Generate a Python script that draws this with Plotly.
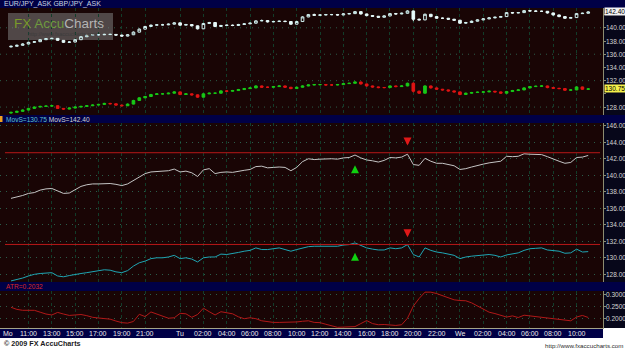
import pandas as pd
import plotly.graph_objects as go

# ---------------- data ----------------
START = "2009-06-15 09:30"
BAR_FREQ = "30min"

EUR_FIRST_OPEN = 137.1
EUR_CLOSE = [137.2,137.35,137.55,137.8,137.9,138.2,138.35,138.4,138.1,137.8,
             137.85,138.2,138.65,138.85,138.95,138.95,139.0,139.0,138.9,138.75,
             138.95,139.35,139.8,140.2,140.4,140.45,140.45,140.55,140.75,140.4,
             140.5,140.3,139.85,140.65,140.8,140.2,140.35,140.4,140.35,140.5,
             140.6,140.7,141.05,141.1,140.9,140.95,141.0,140.95,140.55,140.95,
             141.65,142.0,141.9,141.95,142.0,142.0,141.95,142.1,142.15,142.45,
             142.1,141.85,141.75,141.6,141.8,142.15,142.1,142.2,142.55,141.3,
             141.2,142.05,141.7,141.45,141.45,141.3,141.15,140.7,140.8,141.0,
             141.2,141.35,141.5,141.6,141.7,142.3,142.25,142.3,142.6,142.55,
             142.5,142.5,142.25,141.95,141.7,141.45,141.55,142.15,142.2,142.4]
EUR_HIGH = [137.3,137.45,137.65,137.9,138.0,138.3,138.45,138.5,138.45,138.15,
            137.95,138.3,138.75,138.95,139.05,139.05,139.1,139.1,139.05,138.95,
            139.05,139.45,139.9,140.3,140.5,140.55,140.6,140.65,140.85,140.8,
            140.6,140.55,140.35,140.75,140.9,140.85,140.45,140.5,140.5,140.6,
            140.7,140.8,141.15,141.25,141.15,141.05,141.1,141.1,141.0,141.05,
            141.75,142.1,142.15,142.05,142.1,142.1,142.1,142.2,142.25,142.55,
            142.5,142.15,141.9,141.8,141.9,142.25,142.25,142.3,142.65,142.6,
            141.4,142.15,142.1,141.75,141.55,141.5,141.35,141.2,140.9,141.1,
            141.3,141.45,141.6,141.7,141.8,142.4,142.4,142.4,142.7,142.7,
            142.65,142.6,142.55,142.3,142.0,141.75,141.65,142.25,142.3,142.5]
EUR_LOW = [137.05,137.15,137.3,137.5,137.75,137.85,138.15,138.3,138.0,137.7,
           137.7,137.8,138.15,138.6,138.8,138.85,138.9,138.9,138.8,138.65,
           138.7,138.9,139.3,139.75,140.15,140.35,140.35,140.4,140.5,140.3,
           140.35,140.2,139.75,139.8,140.6,140.1,140.15,140.3,140.25,140.3,
           140.45,140.55,140.65,141.0,140.8,140.85,140.9,140.85,140.45,140.5,
           140.9,141.6,141.85,141.85,141.9,141.9,141.85,141.9,142.05,142.1,
           142.0,141.75,141.65,141.5,141.55,141.75,142.0,142.05,142.15,141.0,
           141.1,141.15,141.6,141.35,141.35,141.2,141.05,140.6,140.6,140.75,
           140.95,141.15,141.3,141.45,141.55,141.65,142.15,142.2,142.25,142.45,
           142.4,142.4,142.15,141.85,141.6,141.35,141.4,141.5,142.1,142.15]

GBP_FIRST_OPEN = 127.1
GBP_CLOSE = [127.2,127.35,127.55,127.8,128.0,128.1,128.15,128.2,127.8,127.7,
             127.85,128.0,128.1,128.2,128.3,128.4,128.55,128.5,128.3,128.2,
             128.45,129.0,129.4,129.6,129.9,130.0,130.0,130.1,130.3,129.9,
             130.0,129.85,129.5,130.0,130.1,130.1,130.45,130.4,130.5,130.65,
             130.8,130.9,131.2,131.0,131.0,131.1,131.2,131.0,130.8,131.0,
             131.2,131.35,131.4,131.4,131.35,131.35,131.4,131.55,131.6,131.8,
             131.5,131.2,131.05,130.95,130.95,131.2,131.1,131.2,131.6,130.4,
             130.1,131.2,130.9,130.7,130.6,130.45,130.3,129.9,130.1,130.2,
             130.25,130.3,130.4,130.3,130.1,130.35,130.5,130.6,130.9,131.1,
             131.15,131.2,130.95,130.85,130.8,130.55,130.6,131.05,130.7,130.75]
GBP_HIGH = [127.3,127.45,127.65,127.9,128.1,128.2,128.25,128.3,128.25,127.85,
            127.95,128.1,128.2,128.3,128.4,128.5,128.65,128.65,128.55,128.35,
            128.55,129.1,129.5,129.7,130.0,130.1,130.1,130.2,130.4,130.35,
            130.1,130.05,129.9,130.1,130.2,130.2,130.55,130.55,130.6,130.75,
            130.9,131.0,131.3,131.25,131.1,131.2,131.3,131.25,131.05,131.1,
            131.3,131.45,131.5,131.5,131.5,131.45,131.5,131.65,131.7,131.9,
            131.85,131.55,131.25,131.1,131.05,131.3,131.25,131.3,131.7,131.75,
            130.5,131.3,131.25,130.95,130.75,130.65,130.5,130.35,130.2,130.3,
            130.35,130.4,130.5,130.45,130.35,130.45,130.6,130.7,131.0,131.2,
            131.25,131.3,131.25,131.0,130.9,130.85,130.7,131.15,131.1,130.85]
GBP_LOW = [127.0,127.15,127.3,127.5,127.75,127.95,128.05,128.1,127.7,127.6,
           127.65,127.8,127.95,128.05,128.15,128.25,128.35,128.4,128.2,128.1,
           128.15,128.4,128.95,129.35,129.55,129.85,129.9,129.95,130.05,129.8,
           129.85,129.75,129.4,129.45,129.95,130.0,130.05,130.3,130.35,130.45,
           130.6,130.75,130.85,130.9,130.9,130.95,131.05,130.9,130.7,130.75,
           130.95,131.15,131.3,131.3,131.25,131.25,131.3,131.35,131.5,131.55,
           131.4,131.1,130.95,130.85,130.85,130.9,131.0,131.05,131.15,130.2,
           130.0,130.05,130.8,130.6,130.5,130.35,130.2,129.8,129.85,130.05,
           130.15,130.2,130.25,130.2,130.0,130.05,130.3,130.45,130.55,130.85,
           131.05,131.1,130.85,130.75,130.7,130.45,130.5,130.55,130.6,130.65]

ATR = [0.247,0.238,0.234,0.233,0.234,0.226,0.218,0.214,0.225,0.218,
       0.212,0.214,0.216,0.211,0.204,0.201,0.199,0.196,0.188,0.181,
       0.179,0.186,0.217,0.207,0.227,0.218,0.210,0.200,0.202,0.221,
       0.219,0.204,0.216,0.243,0.228,0.214,0.228,0.225,0.219,0.206,
       0.198,0.202,0.198,0.189,0.185,0.182,0.182,0.183,0.181,0.184,
       0.187,0.189,0.182,0.181,0.174,0.166,0.161,0.162,0.164,0.164,
       0.177,0.190,0.177,0.172,0.173,0.172,0.169,0.172,0.200,0.252,
       0.285,0.312,0.312,0.306,0.297,0.288,0.279,0.276,0.275,0.266,
       0.252,0.237,0.226,0.220,0.214,0.205,0.210,0.203,0.213,0.210,
       0.205,0.204,0.200,0.197,0.192,0.189,0.189,0.205,0.212,0.2032]

LEVEL_EUR = 142.73
LEVEL_GBP = 131.62
SIG_UP_TIME = "2009-06-16 15:00"
SIG_UP_EUR = 141.2
SIG_UP_GBP = 130.6
SIG_DN_TIME = "2009-06-16 19:30"
SIG_DN_EUR = 143.6
SIG_DN_GBP = 132.5

TICK_TIMES = ["2009-06-15 11:00","2009-06-15 13:00","2009-06-15 15:00","2009-06-15 17:00",
              "2009-06-15 19:00","2009-06-15 21:00","2009-06-16 00:00","2009-06-16 02:00",
              "2009-06-16 04:00","2009-06-16 06:00","2009-06-16 08:00","2009-06-16 10:00",
              "2009-06-16 12:00","2009-06-16 14:00","2009-06-16 16:00","2009-06-16 18:00",
              "2009-06-16 20:00","2009-06-16 22:00","2009-06-17 00:00","2009-06-17 02:00",
              "2009-06-17 04:00","2009-06-17 06:00","2009-06-17 08:00","2009-06-17 10:00"]
TICK_TEXT = ["11:00","13:00","15:00","17:00","19:00","21:00","Tu","02:00","04:00","06:00",
             "08:00","10:00","12:00","14:00","16:00","18:00","20:00","22:00","We","02:00",
             "04:00","06:00","08:00","10:00"]
X_RANGE = ["2009-06-15 08:33:20", "2009-06-17 12:16:00"]

P1_TICKS = [128, 130, 132, 134, 136, 138, 140, 142]
P1_GRID = [128, 132, 136, 140]
P2_TICKS = [128, 130, 132, 134, 136, 138, 140, 142, 144, 146]
ATR_TICKS = [0.20, 0.25, 0.30]

# ---------------- style ----------------
PLOT_BG = "#190505"
NAVY = "#000046"
RIGHT_BG = "#07071a"
VGRID = "#123d2a"
HGRID = "#2b5c4a"
AXLINE = "#8c8c70"
TICKCOL = "#d4d4d4"
FONT = "Liberation Sans"

W, H = 625, 349
ML, MR, MT, MB = 0, 22, 8, 21
PW, PH = W - ML - MR, H - MT - MB


def px(X):
    return (X - ML) / PW


def py(Y):
    return (H - MB - Y) / PH


times = pd.date_range(START, periods=len(EUR_CLOSE), freq=BAR_FREQ)
eur_open = [EUR_FIRST_OPEN] + EUR_CLOSE[:-1]
gbp_open = [GBP_FIRST_OPEN] + GBP_CLOSE[:-1]

fig = go.Figure()

# panel 1 candles
fig.add_trace(go.Candlestick(
    x=times, open=eur_open, high=EUR_HIGH, low=EUR_LOW, close=EUR_CLOSE,
    xaxis="x", yaxis="y", whiskerwidth=0,
    increasing=dict(line=dict(color="#d2f2f2", width=1), fillcolor=PLOT_BG),
    decreasing=dict(line=dict(color="#e6fafa", width=1), fillcolor="#e6fafa"),
    hoverinfo="skip", showlegend=False))
fig.add_trace(go.Candlestick(
    x=times, open=gbp_open, high=GBP_HIGH, low=GBP_LOW, close=GBP_CLOSE,
    xaxis="x", yaxis="y", whiskerwidth=0,
    increasing=dict(line=dict(color="#18c818", width=1), fillcolor="#18c818"),
    decreasing=dict(line=dict(color="#e01414", width=1), fillcolor="#e01414"),
    hoverinfo="skip", showlegend=False))

# panel 2 lines
fig.add_trace(go.Scatter(x=times, y=EUR_CLOSE, mode="lines", xaxis="x2", yaxis="y2",
                         line=dict(color="#c4c4c4", width=1), hoverinfo="skip"))
fig.add_trace(go.Scatter(x=times, y=GBP_CLOSE, mode="lines", xaxis="x2", yaxis="y2",
                         line=dict(color="#1fa6b4", width=1), hoverinfo="skip"))

# panel 3 ATR
fig.add_trace(go.Scatter(x=times, y=ATR, mode="lines", xaxis="x3", yaxis="y3",
                         line=dict(color="#b01818", width=1), hoverinfo="skip"))

xcommon = dict(type="date", range=X_RANGE, tickmode="array", tickvals=TICK_TIMES,
               showgrid=True, gridcolor=VGRID, griddash="dot", gridwidth=1,
               zeroline=False, ticks="", showticklabels=False, automargin=False, fixedrange=True)
ycommon = dict(side="right", showline=True, linecolor=AXLINE, linewidth=1, ticks="outside",
               ticklen=2, tickcolor=AXLINE, showticklabels=False,
               zeroline=False, automargin=False, fixedrange=True)

fig.update_layout(
    width=W, height=H, margin=dict(l=ML, r=MR, t=MT, b=MB, pad=0),
    paper_bgcolor=RIGHT_BG, plot_bgcolor=PLOT_BG, showlegend=False, boxgap=0.35,
    xaxis=dict(domain=[0, 1], anchor="y", rangeslider=dict(visible=False), **xcommon),
    xaxis2=dict(domain=[0, 1], anchor="y2", matches="x", **xcommon),
    xaxis3=dict(domain=[0, 1], anchor="y3", matches="x",
                showline=True, linecolor="#a4a488", linewidth=1, **xcommon),
    yaxis=dict(domain=[py(115), py(8)], anchor="x", range=[126.8, 143.0],
               tickvals=P1_TICKS, showgrid=False, **ycommon),
    yaxis2=dict(domain=[py(282), py(123)], anchor="x2", range=[127.07, 146.33],
                tickvals=P2_TICKS, showgrid=True, gridcolor=HGRID,
                griddash="1px,5px", **ycommon),
    yaxis3=dict(domain=[py(328), py(291)], anchor="x3", range=[0.158, 0.317],
                tickvals=ATR_TICKS, showgrid=True, gridcolor=HGRID,
                griddash="1px,5px", **ycommon),
)

shapes = []
# navy strips
for (y0, y1, x1) in [(0, 8, W), (115, 123, W), (282, 291, W)]:
    shapes.append(dict(type="rect", xref="paper", yref="paper", x0=px(0), x1=px(x1),
                       y0=py(y1), y1=py(y0), fillcolor=NAVY, line=dict(width=0), layer="below"))
shapes.append(dict(type="rect", xref="paper", yref="paper", x0=px(0), x1=px(603),
                   y0=py(338), y1=py(328), fillcolor=NAVY, line=dict(width=0), layer="below"))
shapes.append(dict(type="rect", xref="paper", yref="paper", x0=px(603), x1=px(W),
                   y0=py(338), y1=py(328), fillcolor="#ffffff", line=dict(width=0), layer="below"))
shapes.append(dict(type="rect", xref="paper", yref="paper", x0=px(0), x1=px(W),
                   y0=py(H), y1=py(338), fillcolor="#ffffff", line=dict(width=0), layer="below"))
# orange marker in MovS title bar
shapes.append(dict(type="rect", xref="paper", yref="paper", x0=px(0), x1=px(2.5),
                   y0=py(122), y1=py(116), fillcolor="#f0a020", line=dict(width=0)))
# panel 1 horizontal grid
for g in P1_GRID:
    shapes.append(dict(type="line", xref="paper", yref="y", x0=0, x1=1, y0=g, y1=g,
                       line=dict(color=HGRID, width=1, dash="1px,5px"), layer="below"))
# resistance levels
for lv in (LEVEL_EUR, LEVEL_GBP):
    shapes.append(dict(type="line", xref="paper", yref="y2", x0=px(5), x1=px(600), y0=lv, y1=lv,
                       line=dict(color="#b81818", width=1)))
# watermark box
shapes.append(dict(type="rect", xref="paper", yref="paper", x0=px(8), x1=px(113),
                   y0=py(40), y1=py(13), fillcolor="rgba(125,125,125,0.55)",
                   line=dict(width=0), layer="below"))
fig.update_layout(shapes=shapes)

ann = []
TF = dict(family=FONT, size=6.5, color=TICKCOL)
# right-axis tick labels
for (yr, vals, fmt, hide) in [("y", P1_TICKS, "{:.2f}", (142, 130)), ("y2", P2_TICKS, "{:.2f}", ()),
                              ("y3", ATR_TICKS, "{:.4f}", ())]:
    for v in vals:
        if v in hide:
            continue
        ann.append(dict(xref="paper", yref=yr, x=1, xshift=1, y=v, xanchor="left",
                        yanchor="middle", text=fmt.format(v), showarrow=False, font=TF))
# bottom time labels
for t, s in zip(TICK_TIMES, TICK_TEXT):
    ann.append(dict(xref="x3", yref="paper", x=t, y=py(333), xanchor="center", yanchor="middle",
                    text=s, showarrow=False, font=dict(family=FONT, size=7, color="#e8e8e8")))
ann.append(dict(xref="paper", yref="paper", x=px(1), y=py(333), xanchor="left", yanchor="middle",
                text="Mo", showarrow=False, font=dict(family=FONT, size=7, color="#e8e8e8")))
# title bars
ann.append(dict(xref="paper", yref="paper", x=px(2), y=py(4), xanchor="left", yanchor="middle",
                text="EUR/JPY_ASK GBP/JPY_ASK", showarrow=False,
                font=dict(family=FONT, size=7, color="#c8d4e4")))
ann.append(dict(xref="paper", yref="paper", x=px(4), y=py(119), xanchor="left", yanchor="middle",
                text=(f'<span style="color:#5cc0d0">MovS={GBP_CLOSE[-1]:.2f}</span> '
                      f'<span style="color:#d4d4d4">MovS={EUR_CLOSE[-1]:.2f}</span>'),
                showarrow=False, font=dict(family=FONT, size=6.6, color="#d4d4d4")))
ann.append(dict(xref="paper", yref="paper", x=px(4), y=py(286.5), xanchor="left", yanchor="middle",
                text=f"ATR={ATR[-1]:.4f}", showarrow=False,
                font=dict(family=FONT, size=6.6, color="#d82828")))
# signal arrows (block arrows with stems)
for (t, v, col, ay) in [(SIG_UP_TIME, SIG_UP_EUR, "#10d010", 8), (SIG_UP_TIME, SIG_UP_GBP, "#10d010", 8),
                        (SIG_DN_TIME, SIG_DN_EUR, "#e01818", -8), (SIG_DN_TIME, SIG_DN_GBP, "#e01818", -8)]:
    ann.append(dict(xref="x2", yref="y2", x=t, y=v, ax=0, ay=ay, axref="pixel", ayref="pixel",
                    text="", showarrow=True, arrowhead=2, arrowsize=0.8, arrowwidth=2,
                    arrowcolor=col, standoff=0, startstandoff=0))
# last-value tags
ann.append(dict(xref="paper", yref="y", x=1, xshift=1, y=EUR_CLOSE[-1], xanchor="left",
                yanchor="middle", text=f"{EUR_CLOSE[-1]:.2f}", showarrow=False,
                bgcolor="#f2f2f2", borderpad=0, font=dict(family=FONT, size=6.5, color="#000000")))
ann.append(dict(xref="paper", yref="y", x=1, xshift=1, y=GBP_CLOSE[-1], xanchor="left",
                yanchor="middle", text=f"{GBP_CLOSE[-1]:.2f}", showarrow=False,
                bgcolor="#f4f04a", borderpad=0, font=dict(family=FONT, size=6.5, color="#000000")))
# watermark
ann.append(dict(xref="paper", yref="paper", x=px(59), y=py(23), xanchor="center", yanchor="middle",
                text=('<span style="color:#7a9a2a">FX</span> '
                      '<span style="color:#6e9a3e">Accu</span><span style="color:#b4b4b4">Charts</span>'),
                showarrow=False, font=dict(family=FONT, size=13.5)))
ann.append(dict(xref="paper", yref="paper", x=px(63), y=py(34.5), xanchor="center", yanchor="middle",
                text="http://www.fxaccucharts.com", showarrow=False,
                font=dict(family=FONT, size=5.5, color="#3c3c3c")))
# footer
ann.append(dict(xref="paper", yref="paper", x=px(2), y=py(343.5), xanchor="left", yanchor="middle",
                text="<b>© 2009 FX AccuCharts</b>", showarrow=False,
                font=dict(family=FONT, size=7.2, color="#1a1a1a")))
ann.append(dict(xref="paper", yref="paper", x=px(W), y=py(345), xanchor="right", yanchor="middle",
                text="http://www.fxaccucharts.com", showarrow=False,
                font=dict(family=FONT, size=6.2, color="#2a2a2a")))
fig.update_layout(annotations=ann)

fig.write_html("out.html")
